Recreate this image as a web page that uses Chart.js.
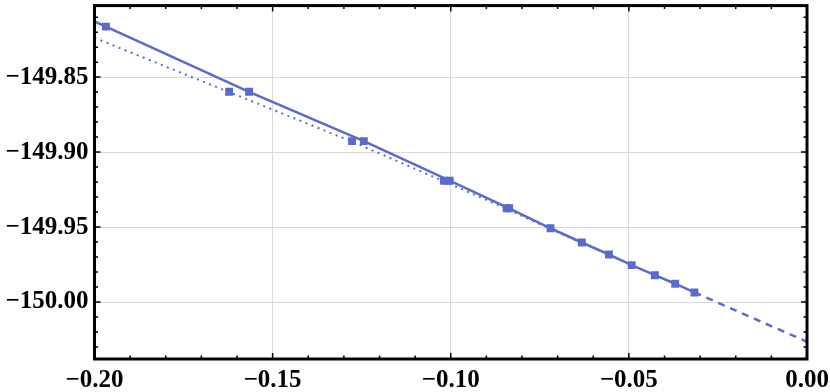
<!DOCTYPE html>
<html>
<head>
<meta charset="utf-8">
<script src="https://cdn.jsdelivr.net/npm/chart.js@4"></script>
<style>
  html, body { margin: 0; padding: 0; background: #fff; }
  #wrap { width: 830px; height: 392px; }
</style>
</head>
<body>
<div id="wrap"><canvas id="fitChart"></canvas></div>
<script>
// tick labels
const xTickValues = [-0.20, -0.15, -0.10, -0.05, 0.00];
const yTickValues = [-150.00, -149.95, -149.90, -149.85];

// squares, first data set (on the solid line)
const seriesAX = [-0.1968, -0.1566, -0.1244, -0.1003, -0.0836, -0.0720, -0.0632, -0.0556, -0.0492, -0.0427, -0.0370, -0.0316];
const seriesAY = [-149.8163, -149.8598, -149.8927, -149.9191, -149.9375, -149.9508, -149.9603, -149.9683, -149.9754, -149.9821, -149.9878, -149.9936];

// squares, second data set (on the dotted line)
const seriesBX = [-0.1622, -0.1277, -0.1019, -0.0843];
const seriesBY = [-149.8598, -149.8927, -149.9191, -149.9375];

// fitted curves
const solidFitX = [-0.200, -0.1968, -0.1566, -0.1244, -0.1003, -0.0836, -0.0720, -0.0632, -0.0556, -0.0492, -0.0427, -0.0370, -0.0316];
const solidFitY = [-149.8128, -149.8163, -149.8598, -149.8927, -149.9191, -149.9375, -149.9508, -149.9603, -149.9683, -149.9754, -149.9821, -149.9878, -149.9936];
const dashedFitX = [-0.0316, 0.000];
const dashedFitY = [-149.9936, -150.0265];
const dottedFitX = [-0.200, -0.1622, -0.1277, -0.1019, -0.0843, -0.0632];
const dottedFitY = [-149.8238, -149.8600, -149.8930, -149.9195, -149.9379, -149.9607];

const blue = '#5b6cc6';
const toPts = (xs, ys) => xs.map((x, i) => ({ x: x, y: ys[i] }));
const fmt = v => (v < 0 ? '\u2212' : '') + Math.abs(v).toFixed(2);
const font = { family: '"Liberation Serif", "Times New Roman", serif', size: 25, weight: 'bold' };

// black frame with inward ticks on all four sides
const framePlugin = {
    id: 'frame',
    afterDraw(chart) {
        const { ctx, chartArea: a, scales } = chart;
        const xs = scales.x, ys = scales.y;
        ctx.save();
        ctx.strokeStyle = '#000';
        ctx.lineWidth = 1.5;
        for (let k = -20; k <= 0; k++) {
            const px = xs.getPixelForValue(k / 100);
            const len = k % 5 === 0 ? 6 : 3.5;
            ctx.beginPath();
            ctx.moveTo(px, a.bottom); ctx.lineTo(px, a.bottom - len);
            ctx.moveTo(px, a.top); ctx.lineTo(px, a.top + len);
            ctx.stroke();
        }
        for (let k = -15003; k <= -14981; k++) {
            const py = ys.getPixelForValue(k / 100);
            const len = k % 5 === 0 ? 6 : 3.5;
            ctx.beginPath();
            ctx.moveTo(a.left, py); ctx.lineTo(a.left + len, py);
            ctx.moveTo(a.right, py); ctx.lineTo(a.right - len, py);
            ctx.stroke();
        }
        ctx.lineWidth = 3;
        ctx.strokeRect(a.left, a.top, a.right - a.left, a.bottom - a.top);
        ctx.restore();
    }
};

new Chart(document.getElementById('fitChart'), {
    type: 'scatter',
    data: {
        datasets: [
            {
                data: toPts(seriesAX, seriesAY),
                pointStyle: 'rect',
                pointRadius: 5.6,
                backgroundColor: blue,
                borderWidth: 0,
                showLine: false
            },
            {
                data: toPts(seriesBX, seriesBY),
                pointStyle: 'rect',
                pointRadius: 5.6,
                backgroundColor: blue,
                borderWidth: 0,
                showLine: false
            },
            {
                data: toPts(solidFitX, solidFitY),
                showLine: true,
                pointRadius: 0,
                borderColor: blue,
                borderWidth: 2.5
            },
            {
                data: toPts(dashedFitX, dashedFitY),
                showLine: true,
                pointRadius: 0,
                borderColor: blue,
                borderWidth: 2.5,
                borderDash: [7, 6]
            },
            {
                data: toPts(dottedFitX, dottedFitY),
                showLine: true,
                pointRadius: 0,
                borderColor: blue,
                borderWidth: 2,
                borderDash: [2, 4.5]
            }
        ]
    },
    options: {
        responsive: true,
        maintainAspectRatio: false,
        animation: false,
        layout: { padding: { left: 0, right: 23, top: 4, bottom: 0 } },
        plugins: {
            legend: { display: false },
            tooltip: { enabled: false }
        },
        scales: {
            x: {
                type: 'linear',
                min: -0.2,
                max: 0,
                afterBuildTicks: s => { s.ticks = xTickValues.map(v => ({ value: v })); },
                afterFit: s => { s.height = 33; s.paddingLeft = 0; s.paddingRight = 0; },
                border: { display: false },
                grid: { color: '#d9d9d9', lineWidth: 1, drawTicks: false },
                ticks: {
                    color: '#000',
                    font: font,
                    padding: 7,
                    maxRotation: 0,
                    autoSkip: false,
                    callback: v => fmt(v)
                }
            },
            y: {
                type: 'linear',
                min: -150.038,
                max: -149.8023,
                afterBuildTicks: s => { s.ticks = yTickValues.map(v => ({ value: v })); },
                afterFit: s => { s.width = 94.5; s.paddingTop = 0; s.paddingBottom = 0; },
                border: { display: false },
                grid: { color: '#d9d9d9', lineWidth: 1, drawTicks: false },
                ticks: {
                    color: '#000',
                    font: font,
                    padding: 6,
                    autoSkip: false,
                    callback: v => fmt(v)
                }
            }
        }
    },
    plugins: [framePlugin]
});
</script>
</body>
</html>
